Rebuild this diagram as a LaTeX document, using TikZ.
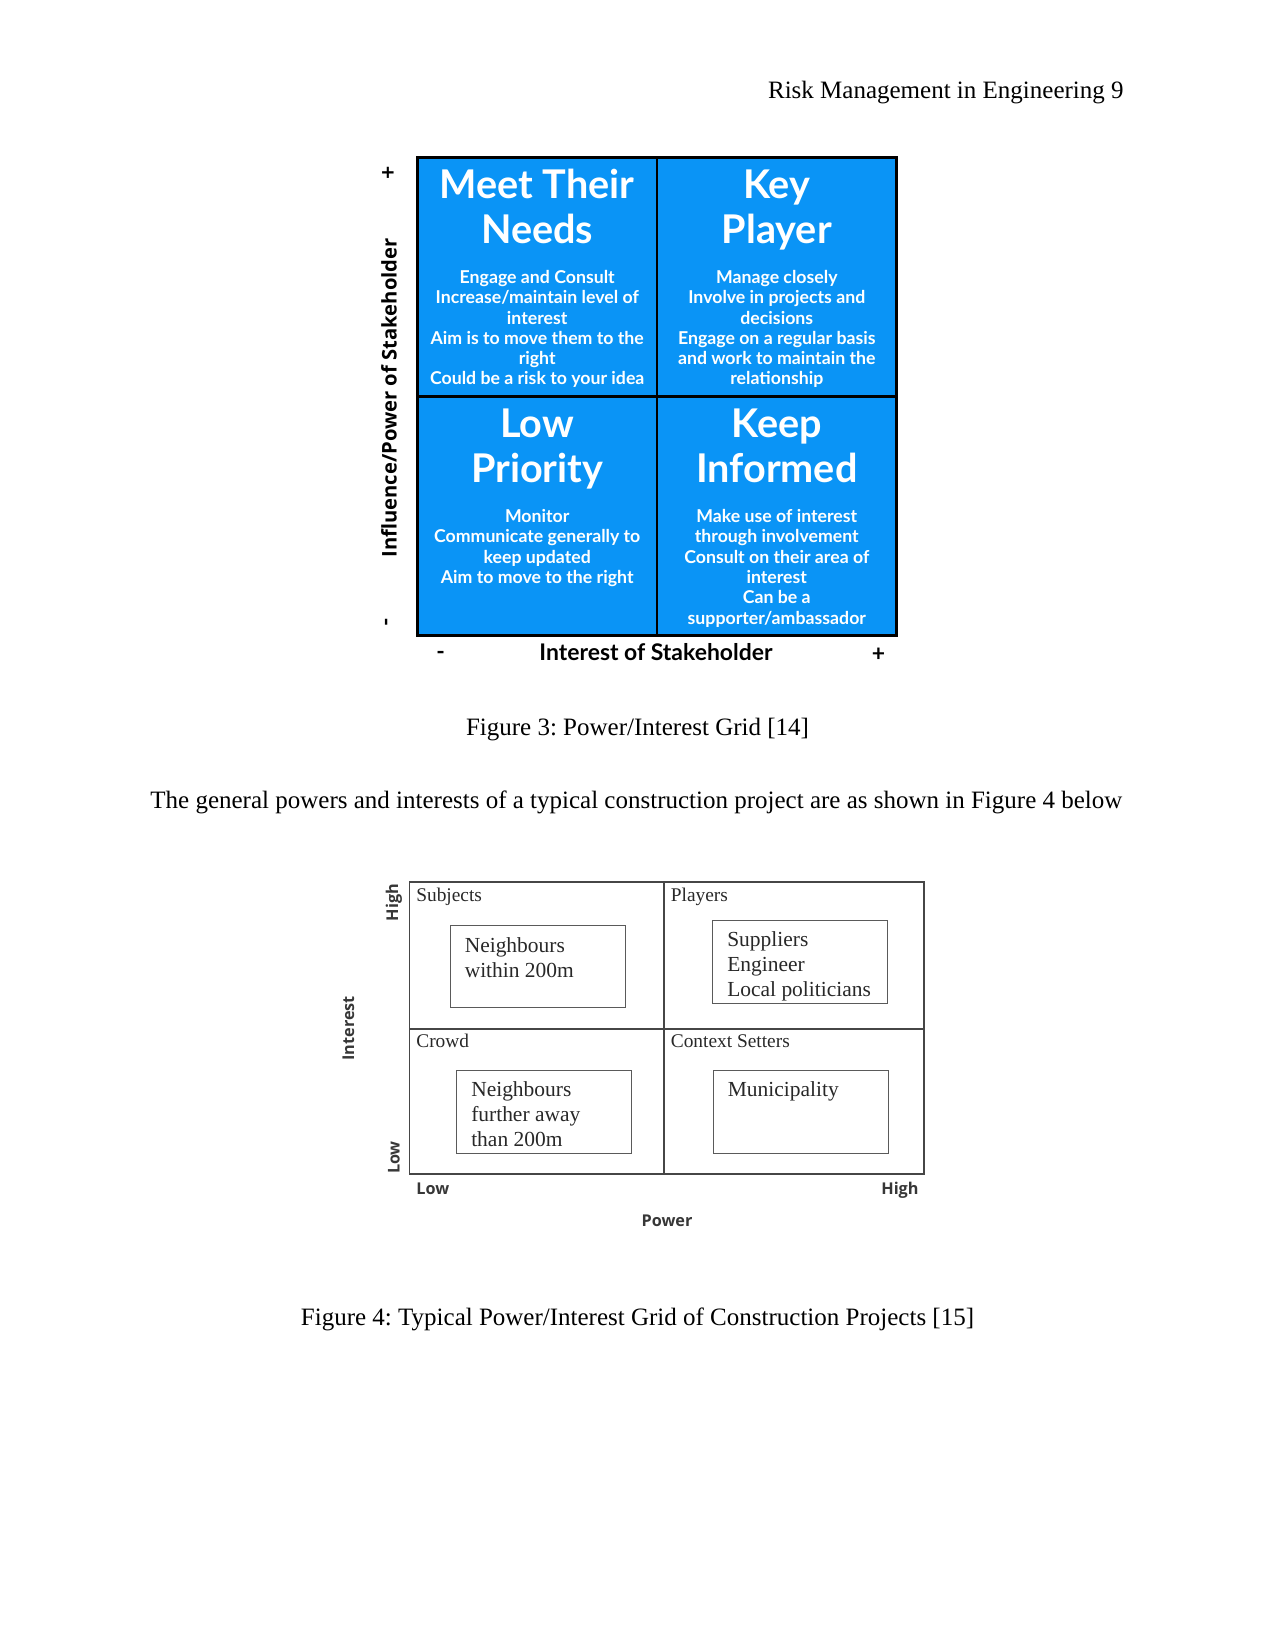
\documentclass[tikz,border=0pt]{standalone}
\usepackage{fontspec}
\setmainfont{Liberation Serif}
\newfontfamily\latofont{Lato}
\newfontfamily\osfont{Open Sans}
\usetikzlibrary{positioning}
\frenchspacing

\definecolor{gridblue}{RGB}{10,148,246}
\definecolor{cellgray}{RGB}{70,70,70}
\definecolor{boxgray}{RGB}{90,90,90}
\definecolor{txtgray}{RGB}{40,40,40}
\definecolor{lblgray}{RGB}{55,55,55}

\tikzset{
  quad/.style={draw=black, line width=1.4pt, fill=gridblue, minimum width=115pt,
               minimum height=114.8pt, inner sep=0pt, outer sep=0pt},
  qtitle/.style={text=white, font=\latofont\bfseries\fontsize{19}{21.6}\selectfont,
                 align=center, inner sep=0pt, anchor=north},
  qbody/.style={text=white, font=\latofont\bfseries\fontsize{8.5}{9.75}\selectfont,
                align=center, inner sep=0pt, anchor=north},
  axlbl/.style={font=\latofont\bfseries\fontsize{11}{13}\selectfont, inner sep=0pt},
  cell/.style={draw=cellgray, line width=0.8pt, inner sep=0pt, outer sep=0pt},
  ibox/.style={draw=boxgray, line width=0.5pt, inner sep=0pt, outer sep=0pt,
               minimum width=84pt, minimum height=39.6pt},
  qname/.style={font=\fontsize{9.3}{11}\selectfont, text=txtgray, inner sep=0pt, anchor=base west},
  ilist/.style={font=\fontsize{10.3}{12}\selectfont, text=txtgray, align=left,
                inner sep=0pt, anchor=north west},
  pilbl/.style={font=\osfont\bfseries\fontsize{7.8}{9}\selectfont, text=lblgray, inner sep=0pt},
  doctext/.style={font=\fontsize{12}{14}\selectfont, inner sep=0pt}
}

\begin{document}
\begin{tikzpicture}[x=0.48pt,y=-0.48pt]
    \useasboundingbox (0,0) rectangle (1275,1650);

    \node[doctext, anchor=base east] (hdr) at (1124,98.3) {Risk Management in Engineering 9};

    % Figure 3
    \node[quad] (mtn) at (537.2,276.9) {};
    \node[quad] (kp)  at (776.8,276.9) {};
    \node[quad] (lp)  at (537.2,516.1) {};
    \node[quad] (ki)  at (776.8,516.1) {};

    \node[qtitle] (mtnt) at ([yshift=-5.6pt]mtn.north) {Meet Their\\Needs};
    \node[qbody]  (mtnb) at ([yshift=-54pt]mtn.north)
        {Engage and Consult\\Increase/maintain level of\\interest\\Aim is to move them to the\\right\\Could be a risk to your idea};
    \node[qtitle] (kpt) at ([yshift=-5.6pt]kp.north) {Key\\Player};
    \node[qbody]  (kpb) at ([yshift=-54pt]kp.north)
        {Manage closely\\Involve in projects and\\decisions\\Engage on a regular basis\\and work to maintain the\\relationship};
    \node[qtitle] (lpt) at ([yshift=-5.6pt]lp.north) {Low\\Priority};
    \node[qbody]  (lpb) at ([yshift=-54pt]lp.north)
        {Monitor\\Communicate generally to\\keep updated\\Aim to move to the right};
    \node[qtitle] (kit) at ([yshift=-5.6pt]ki.north) {Keep\\Informed};
    \node[qbody]  (kib) at ([yshift=-54pt]ki.north)
        {Make use of interest\\through involvement\\Consult on their area of\\interest\\Can be a\\supporter/ambassador};

    \node[axlbl, rotate=90] (yplus)  at (389,172.5) {+};
    \node[axlbl, rotate=90] (yminus) at (389,622.5) {-};
    \node[font=\osfont\bfseries\fontsize{9.7}{11}\selectfont, inner sep=0pt, rotate=90] (ylab) at (389,398)
        {Influence/Power of Stakeholder};
    \node[axlbl] (xminus) at (440.7,655) {-};
    \node[axlbl] (xlab)   at (656,652) {Interest of Stakeholder};
    \node[axlbl] (xplus)  at (878.6,655) {+};

    \node[doctext, anchor=base] (cap3) at (637.5,735) {Figure 3: Power/Interest Grid [14]};
    \node[doctext, anchor=base west] (para) at (150,808.5)
        {The general powers and interests of a typical construction project are as shown in Figure 4 below};

    % Figure 4
    \node[cell, minimum width=122.2pt, minimum height=70.6pt] (subj) at (536.75,955.5) {};
    \node[cell, minimum width=124.8pt, minimum height=70.6pt] (play) at (794,955.5) {};
    \node[cell, minimum width=122.2pt, minimum height=69.7pt] (crwd) at (536.75,1101.65) {};
    \node[cell, minimum width=124.8pt, minimum height=69.7pt] (ctxs) at (794,1101.65) {};

    \node[qname] at ([xshift=3.1pt,yshift=-9.3pt]subj.north west) {Subjects};
    \node[qname] at ([xshift=3.1pt,yshift=-9.3pt]play.north west) {Players};
    \node[qname] at ([xshift=3.1pt,yshift=-9pt]crwd.north west) {Crowd};
    \node[qname] at ([xshift=3.1pt,yshift=-9pt]ctxs.north west) {Context Setters};

    \node[ibox] (nbin)  at (537.9,966.7) {};
    \node[ibox] (supl)  at (800.4,962) {};
    \node[ibox] (nbout) at (544.4,1111.8) {};
    \node[ibox] (muni)  at (801,1111.8) {};

    \node[ilist] at ([xshift=6.7pt,yshift=-5.4pt]nbin.north west) {Neighbours\\within 200m};
    \node[ilist] at ([xshift=6.7pt,yshift=-5.2pt]supl.north west) {Suppliers\\Engineer\\Local politicians};
    \node[ilist] at ([xshift=6.7pt,yshift=-5.3pt]nbout.north west) {Neighbours\\further away\\than 200m};
    \node[ilist] at ([xshift=6.7pt,yshift=-5.3pt]muni.north west) {Municipality};

    \node[pilbl, rotate=90] (ihigh) at (394,902.5) {High};
    \node[pilbl, rotate=90] (ilow)  at (394,1157.5) {Low};
    \node[pilbl, rotate=90] (ilab)  at (348.5,1028.3) {Interest};
    \node[pilbl, anchor=base west] (plow)  at (416,1194) {Low};
    \node[pilbl, anchor=base east] (phigh) at (919,1194) {High};
    \node[pilbl] (plab) at (667,1220.7) {Power};

    \node[doctext, anchor=base] (cap4) at (637.5,1325)
        {Figure 4: Typical Power/Interest Grid of Construction Projects [15]};
\end{tikzpicture}
\end{document}
